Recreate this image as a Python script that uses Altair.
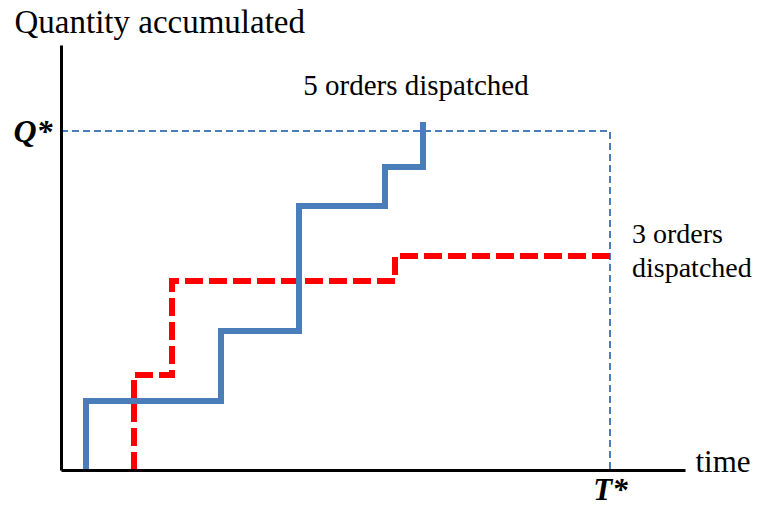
import altair as alt
import pandas as pd

# Data (units: arbitrary time / quantity)
X_MAX = 624
Y_MAX = 425
Q_STAR = 339
T_STAR = 549

blue_times = [25, 160, 238, 324, 362]
blue_levels = [69, 139, 264, 303, 348]

red_times = [73, 111, 334]
red_levels = [95, 189, 214]

top_label = ["5 orders dispatched"]
top_label_x = [355]
top_label_y = [384]

side_labels = ["3 orders", "dispatched"]
side_label_x = [571, 571]
side_label_y = [235, 201]


def step_path(times, levels, end=None):
    pts = []
    prev = 0
    for t, lv in zip(times, levels):
        pts.append((t, prev))
        pts.append((t, lv))
        prev = lv
    if end is not None:
        pts.append((end, prev))
    return pts


blue_pts = step_path(blue_times, blue_levels)
red_pts = step_path(red_times, red_levels, end=T_STAR)

blue_df = pd.DataFrame({"t": [p[0] for p in blue_pts], "q": [p[1] for p in blue_pts], "o": range(len(blue_pts))})
red_df = pd.DataFrame({"t": [p[0] for p in red_pts], "q": [p[1] for p in red_pts], "o": range(len(red_pts))})
ref_df = pd.DataFrame({"t": [0, T_STAR, T_STAR], "q": [Q_STAR, Q_STAR, 0], "o": [0, 1, 2]})
top_df = pd.DataFrame({"text": top_label, "t": top_label_x, "q": top_label_y})
side_df = pd.DataFrame({"text": side_labels, "t": side_label_x, "q": side_label_y})

FONT = "Times New Roman, Liberation Serif, serif"

xscale = alt.Scale(domain=[0, X_MAX], nice=False, zero=True)
yscale = alt.Scale(domain=[0, Y_MAX], nice=False, zero=True)

xaxis = alt.Axis(
    values=[T_STAR], labelExpr="'T*'", ticks=False, grid=False,
    labelFont=FONT, labelFontSize=31, labelFontStyle="italic", labelFontWeight="bold",
    labelColor="black", labelPadding=5, labelBaseline="top",
    domainColor="black", domainWidth=3, zindex=1,
    title="time", titleFont=FONT, titleFontSize=31, titleFontWeight="normal",
    titleColor="black", titleAlign="left", titleBaseline="alphabetic",
    titleX=634, titleY=1, titleAngle=0,
)
yaxis = alt.Axis(
    values=[Q_STAR], labelExpr="'Q*'", ticks=False, grid=False,
    labelFont=FONT, labelFontSize=32, labelFontStyle="italic", labelFontWeight="bold",
    labelColor="black", labelPadding=9,
    domainColor="black", domainWidth=3, zindex=1,
    title="Quantity accumulated", titleFont=FONT, titleFontSize=33, titleFontWeight="normal",
    titleColor="black", titleAlign="left", titleBaseline="alphabetic",
    titleAngle=0, titleX=-47, titleY=-13,
)

base_x = alt.X("t:Q", scale=xscale, axis=xaxis)
base_y = alt.Y("q:Q", scale=yscale, axis=yaxis)

ref = alt.Chart(ref_df).mark_line(color="#4a7ebb", strokeWidth=2, strokeDash=[7, 4]).encode(
    x=base_x, y=base_y, order="o:Q"
)
red = alt.Chart(red_df).mark_line(color="#ff0000", strokeWidth=6, strokeDash=[18, 6], strokeJoin="miter").encode(
    x="t:Q", y="q:Q", order="o:Q"
)
blue = alt.Chart(blue_df).mark_line(color="#4a7ebb", strokeWidth=6, strokeJoin="miter").encode(
    x="t:Q", y="q:Q", order="o:Q"
)
txt_top = alt.Chart(top_df).mark_text(font=FONT, fontSize=29, color="black", baseline="middle", align="center").encode(
    x="t:Q", y="q:Q", text="text:N"
)
txt_side = alt.Chart(side_df).mark_text(font=FONT, fontSize=28, color="black", baseline="middle", align="left").encode(
    x="t:Q", y="q:Q", text="text:N"
)

chart = alt.layer(ref, red, blue, txt_top, txt_side).properties(
    width=X_MAX, height=Y_MAX,
    autosize=alt.AutoSizeParams(type="none"),
    padding={"left": 53, "top": 37, "right": 70, "bottom": 30},
).configure_view(stroke=None)

chart.save("out.html", embed_options={"renderer": "svg", "actions": False})
